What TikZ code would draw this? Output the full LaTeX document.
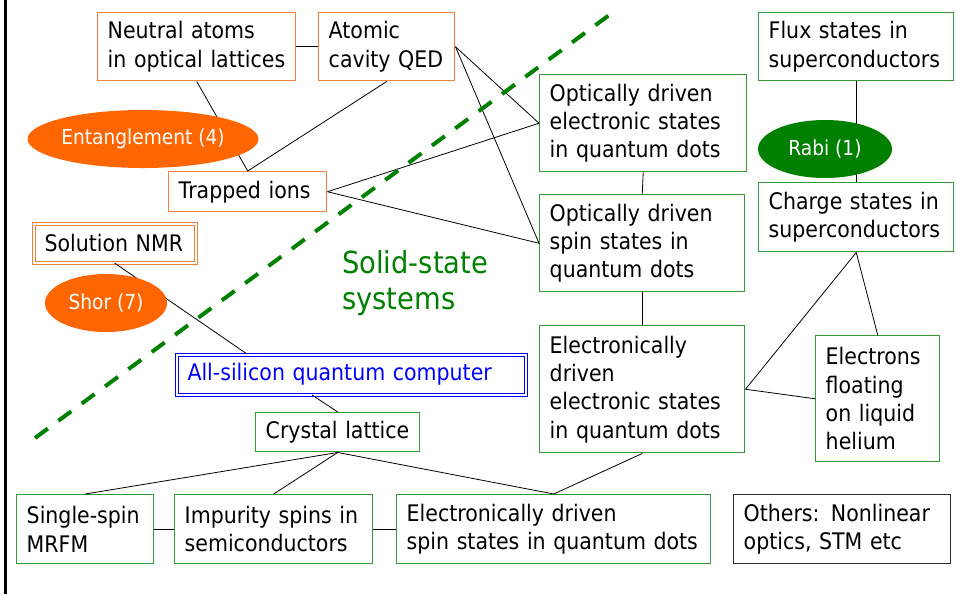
\documentclass[tikz,border=0pt]{standalone}
\usepackage{fontspec}
\setmainfont{DejaVu Sans}[FakeStretch=0.9]
\usetikzlibrary{shapes.geometric}
\definecolor{orline}{RGB}{242,128,58}
\definecolor{orfill}{RGB}{255,102,0}
\definecolor{grline}{RGB}{55,150,55}
\definecolor{grfill}{RGB}{0,128,0}
\definecolor{grtext}{RGB}{0,128,0}
\definecolor{blline}{RGB}{0,0,255}
\definecolor{dkline}{RGB}{45,45,45}
\newcommand{\boxfont}{\fontsize{17.1pt}{21.25pt}\selectfont\hyphenpenalty=10000\exhyphenpenalty=10000\relax}
\newcommand{\ellfont}{\fontsize{15.5pt}{18pt}\selectfont}
\newcommand{\bigfont}{\fontsize{22.8pt}{27pt}\selectfont}
\begin{document}
\begin{tikzpicture}[x=0.75pt,y=-0.75pt,
  box/.style={draw, line width=1.1pt, inner xsep=7.5pt, inner ysep=0pt,
    align=left, anchor=north west, font=\boxfont, text=black},
  orbox/.style={box, draw=orline},
  grbox/.style={box, draw=grline},
  dkbox/.style={box, draw=dkline},
  dblbox/.style={box, line width=0.75pt, double=white, double distance=1.5pt, inner xsep=8.25pt},
  ell/.style={ellipse, inner sep=0pt, draw=none, text=white, font=\ellfont},
  conn/.style={draw=black, line width=0.6pt},
  dashline/.style={draw=grfill, line width=3pt, dash pattern=on 12pt off 9.75pt}]
\useasboundingbox (0,0) rectangle (956,594);
\fill[white] (0,0) rectangle (956,594);
\draw[black, line width=2.25pt] (5,0) -- (5,594);

% orange (atomic) boxes
\node[orbox, text width=133.5pt, minimum height=51pt] (neutral) at (97,12) {\mbox{Neutral atoms}\\\mbox{in optical lattices}};
\node[orbox, text width=87pt, minimum height=51pt] (atomic) at (318,12) {\mbox{Atomic}\\\mbox{cavity QED}};
\node[orbox, text width=103.5pt, minimum height=30pt] (trapped) at (168,171) {\mbox{Trapped ions}};
\node[dblbox, draw=orline, text width=105pt, minimum height=29.25pt] (nmr) at (33,223) {\mbox{Solution NMR}};
\node[dblbox, draw=blline, text=blline, text width=245.25pt, minimum height=30pt] (allsi) at (176,354) {\mbox{All-silicon quantum computer}};

% green boxes
\node[grbox, text width=140.25pt, minimum height=72.75pt] (optel) at (539,74) {\mbox{Optically driven}\\\mbox{electronic states}\\\mbox{in quantum dots}};
\node[grbox, text width=138.75pt, minimum height=72.75pt] (optspin) at (539,194) {\mbox{Optically driven}\\\mbox{spin states in}\\\mbox{quantum dots}};
\node[grbox, text width=138.75pt, minimum height=95.25pt] (elec) at (539,325) {\mbox{Electronically}\\\mbox{driven}\\\mbox{electronic states}\\\mbox{in quantum dots}};
\node[grbox, text width=131.25pt, minimum height=51pt] (flux) at (758,12) {\mbox{Flux states in}\\\mbox{superconductors}};
\node[grbox, text width=131.25pt, minimum height=51.75pt] (charge) at (758,182) {\mbox{Charge states in}\\\mbox{superconductors}};
\node[grbox, text width=78pt, minimum height=94.5pt] (floating) at (815,335) {\mbox{Electrons}\\\mbox{floating}\\\mbox{on liquid}\\\mbox{helium}};
\node[grbox, text width=108pt, minimum height=29.25pt] (crystal) at (255,412) {\mbox{Crystal lattice}};
\node[grbox, text width=87.75pt, minimum height=51.75pt] (single) at (16,494) {\mbox{Single-spin}\\\mbox{MRFM}};
\node[grbox, text width=133.5pt, minimum height=51.75pt] (impurity) at (174,494) {\mbox{Impurity spins in}\\\mbox{semiconductors}};
\node[grbox, text width=220.5pt, minimum height=51.75pt] (edspin) at (396,494) {\mbox{Electronically driven}\\\mbox{spin states in quantum dots}};
\node[dkbox, text width=147.75pt, minimum height=51.75pt] (others) at (733,494) {\mbox{Others: Nonlinear}\\\mbox{optics, STM etc}};

% connectors
\draw[conn] (neutral.east) -- (atomic.west);
\draw[conn] (neutral.south) -- (trapped.north);
\draw[conn] (atomic.south) -- (trapped.north);
\draw[conn] (atomic.east) -- (optel.west);
\draw[conn] (atomic.east) -- (optspin.west);
\draw[conn] (trapped.east) -- (optel.west);
\draw[conn] (trapped.east) -- (optspin.west);
\draw[conn] (optel.south) -- (optspin.north);
\draw[conn] (optspin.south) -- (elec.north);
\draw[conn] (flux.south) -- (charge.north);
\draw[conn] (charge.south) -- (elec.east);
\draw[conn] (charge.south) -- (floating.north);
\draw[conn] (elec.east) -- (floating.west);
\draw[conn] (nmr.south) -- ([xshift=53.25pt]allsi.north west);
\draw[conn] ([xshift=102pt]allsi.south west) -- (crystal.north);
\draw[conn] (crystal.south) -- (single.north);
\draw[conn] (crystal.south) -- (impurity.north);
\draw[conn] (crystal.south) -- (edspin.north);
\draw[conn] (elec.south) -- (edspin.north);
\draw[conn] (single.east) -- (impurity.west);
\draw[conn] (impurity.east) -- (edspin.west);

% dashed divider
\coordinate (d1) at (35,438);
\coordinate (d2) at (612,13);
\draw[dashline] (d1) -- (d2);

\node[anchor=west, inner sep=0pt, align=left, text=grtext, font=\bigfont] (solid) at (342,283) {Solid-state\\systems};

% ellipses
\node[ell, fill=orfill, minimum width=154.5pt, minimum height=43.5pt] (ent) at (143,139) {Entanglement (4)};
\node[ell, fill=orfill, minimum width=91.5pt, minimum height=43.5pt] (shor) at (106,303) {Shor (7)};
\node[ell, fill=grfill, minimum width=100.5pt, minimum height=43.5pt] (rabi) at (825,149) {Rabi (1)};
\end{tikzpicture}
\end{document}
